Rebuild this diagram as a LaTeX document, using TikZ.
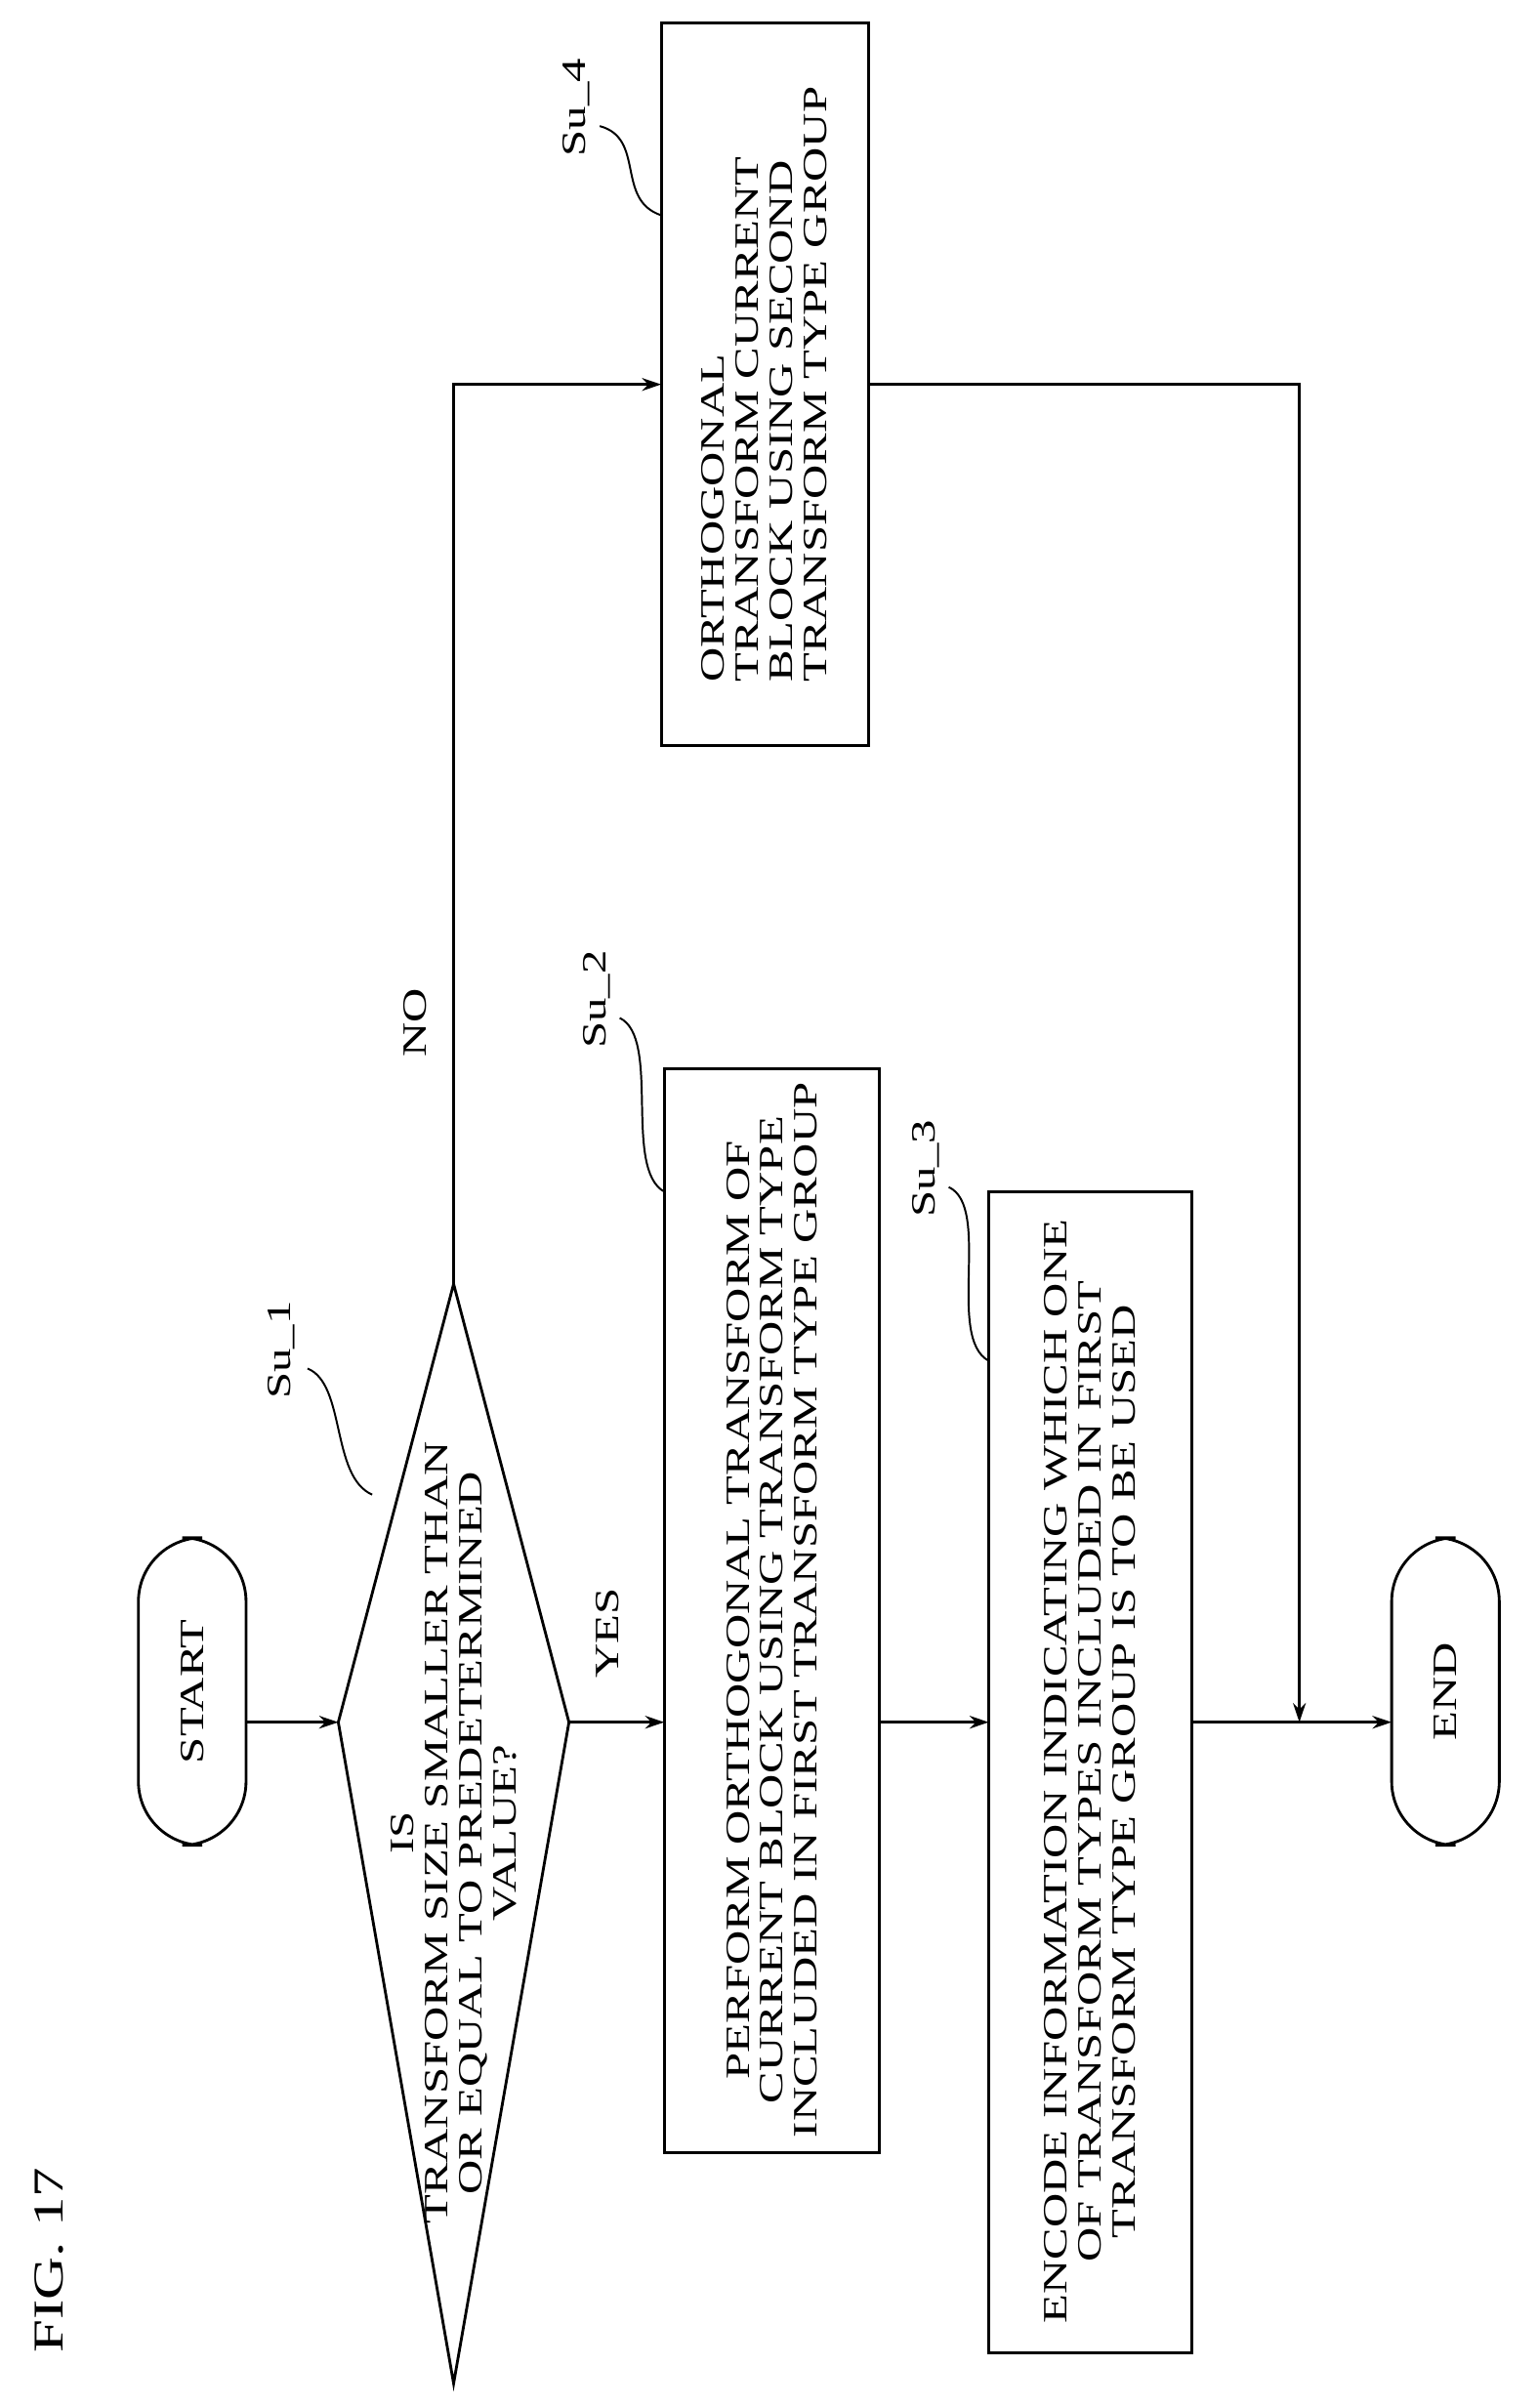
\documentclass[tikz,border=0pt]{standalone}
\usepackage{fontspec}
\usetikzlibrary{arrows.meta}
\setmainfont{Liberation Serif}[FakeStretch=1.4]
\begin{document}
\begin{tikzpicture}[x=0.254mm,y=-0.254mm,line width=1.3pt,
  txt/.style={rotate=90,font=\fontsize{16}{16}\selectfont,align=center},
  arr/.style={-{Stealth[length=9pt,width=6pt]}},
  lab/.style={font=\fontsize{16}{16}\selectfont,rotate=90}]
\useasboundingbox (0,0) rectangle (1000,1566);
\node[txt,font=\fontsize{20}{20}\selectfont] (fig) at (32,1470) {FIG. 17};
% START
\draw[rounded corners=30] (90,1000) rectangle (160,1200);
\node[txt] (start) at (125,1100) {START};
% diamond
\coordinate (dt) at (295,835); \coordinate (dr) at (370,1120);
\coordinate (db) at (295,1550); \coordinate (dl) at (220,1120);
\draw (dt)--(dr)--(db)--(dl)--cycle;
\node[txt] (dec) at (295,1192) {IS\\TRANSFORM SIZE SMALLER THAN\\OR EQUAL TO PREDETERMINED\\VALUE?};
% boxes
\draw (432,695) rectangle (572,1400);
\node[txt] (b2) at (502,1047) {PERFORM ORTHOGONAL TRANSFORM OF\\CURRENT BLOCK USING TRANSFORM TYPE\\INCLUDED IN FIRST TRANSFORM TYPE GROUP};
\draw (643,775) rectangle (775,1530);
\node[txt] (b3) at (709,1152) {ENCODE INFORMATION INDICATING WHICH ONE\\OF TRANSFORM TYPES INCLUDED IN FIRST\\TRANSFORM TYPE GROUP IS TO BE USED};
\draw (430,15) rectangle (565,485);
\node[txt,align=left] (b4) at (497,250) {ORTHOGONAL\\TRANSFORM CURRENT\\BLOCK USING SECOND\\TRANSFORM TYPE GROUP};
\draw[rounded corners=30] (905,1000) rectangle (975,1200);
\node[txt] (endn) at (940,1100) {END};
% connectors
\draw[arr] (160,1120) -- (dl);
\draw[arr] (dr) -- (432,1120);
\draw[arr] (572,1120) -- (643,1120);
\draw[arr] (775,1120) -- (905,1120);
\coordinate (c1) at (295,250);
\draw[arr] (dt) -- (c1) -- (430,250);
\coordinate (c2) at (845,250); \coordinate (c3) at (845,1120);
\draw[arr] (565,250) -- (c2) -- (c3);
\node[lab] (yes) at (395,1062) {YES};
\node[lab] (no) at (270,665) {NO};
% step labels
\node[lab] (s1) at (183,878) {Su\_1};
\draw[line width=0.9pt] (200,890) .. controls (225,900) and (215,960) .. (242,972);
\node[lab] (s2) at (388,650) {Su\_2};
\draw[line width=0.9pt] (403,662) .. controls (430,675) and (405,760) .. (432,775);
\node[lab] (s3) at (602,760) {Su\_3};
\draw[line width=0.9pt] (617,772) .. controls (645,785) and (615,870) .. (643,885);
\node[lab] (s4) at (375,70) {Su\_4};
\draw[line width=0.9pt] (390,82) .. controls (420,90) and (400,130) .. (430,140);
\end{tikzpicture}
\end{document}
